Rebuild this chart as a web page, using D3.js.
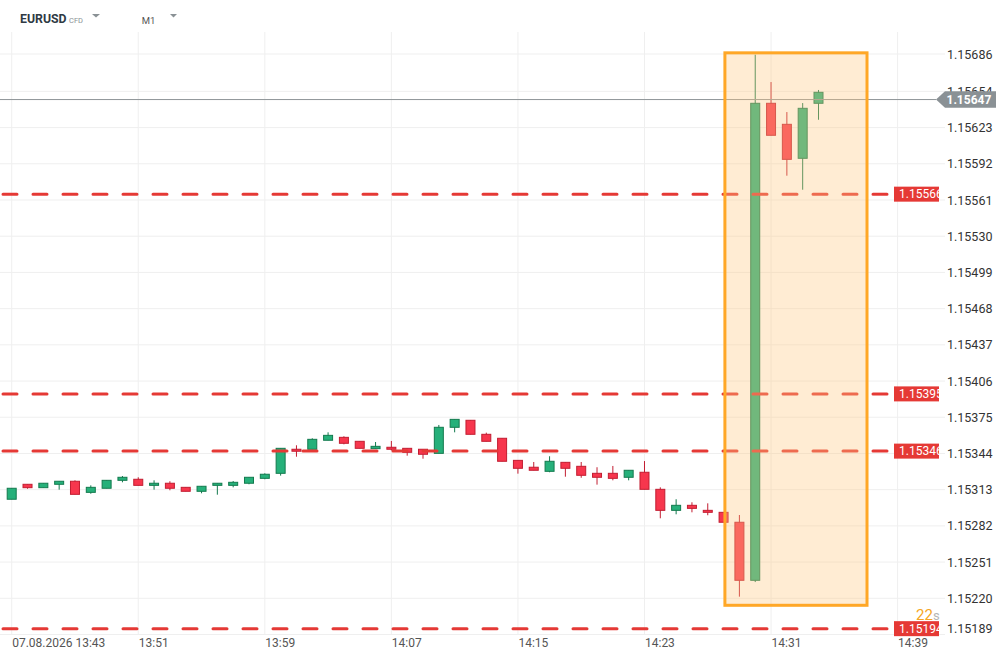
<!DOCTYPE html>
<html>
<head>
<meta charset="utf-8">
<script src="https://cdn.jsdelivr.net/npm/d3@7"></script>
<style>
    body { margin: 0; background: #fff; }
    svg { display: block; font-family: Roboto, "Noto Sans", sans-serif; }
</style>
</head>
<body>
<div id="svg_container"></div>
<script>
// EURUSD M1, one candle per minute starting at startTime
var startTime = "2026-08-07 13:43";
var opens = [1.153048, 1.153176, 1.153147, 1.153176, 1.153202, 1.153107, 1.153142, 1.153210, 1.153219, 1.153167,
    1.153185, 1.153150, 1.153116, 1.153167, 1.153167, 1.153185, 1.153227, 1.153270, 1.153476, 1.153476,
    1.153553, 1.153578, 1.153544, 1.153481, 1.153493, 1.153484, 1.153476, 1.153441, 1.153664, 1.153724,
    1.153604, 1.153570, 1.153381, 1.153322, 1.153287, 1.153364, 1.153330, 1.153270, 1.153270, 1.153236,
    1.153279, 1.153133, 1.152953, 1.152996, 1.152953, 1.152936, 1.152851, 1.152354, 1.156438, 1.156258,
    1.155967, 1.156438];
var highs = [1.153142, 1.153176, 1.153185, 1.153202, 1.153210, 1.153167, 1.153210, 1.153247, 1.153236, 1.153210,
    1.153202, 1.153150, 1.153159, 1.153185, 1.153204, 1.153236, 1.153270, 1.153484, 1.153510, 1.153570,
    1.153621, 1.153587, 1.153544, 1.153538, 1.153547, 1.153484, 1.153476, 1.153684, 1.153732, 1.153724,
    1.153618, 1.153570, 1.153381, 1.153367, 1.153416, 1.153364, 1.153367, 1.153322, 1.153333, 1.153296,
    1.153375, 1.153150, 1.153048, 1.153022, 1.153013, 1.152936, 1.152913, 1.156854, 1.156620, 1.156363,
    1.156440, 1.156552];
var lows = [1.153048, 1.153138, 1.153147, 1.153130, 1.153090, 1.153095, 1.153142, 1.153193, 1.153167, 1.153130,
    1.153125, 1.153116, 1.153099, 1.153087, 1.153150, 1.153176, 1.153219, 1.153250, 1.153412, 1.153476,
    1.153553, 1.153518, 1.153484, 1.153481, 1.153465, 1.153421, 1.153395, 1.153441, 1.153621, 1.153604,
    1.153544, 1.153373, 1.153267, 1.153296, 1.153279, 1.153241, 1.153232, 1.153173, 1.153210, 1.153210,
    1.153133, 1.152885, 1.152919, 1.152936, 1.152911, 1.152851, 1.152214, 1.152339, 1.156164, 1.155818,
    1.155698, 1.156297];
var closes = [1.153142, 1.153147, 1.153185, 1.153202, 1.153090, 1.153150, 1.153210, 1.153236, 1.153167, 1.153185,
    1.153142, 1.153116, 1.153159, 1.153185, 1.153193, 1.153236, 1.153262, 1.153484, 1.153459, 1.153561,
    1.153595, 1.153527, 1.153484, 1.153501, 1.153476, 1.153450, 1.153433, 1.153664, 1.153732, 1.153604,
    1.153544, 1.153373, 1.153313, 1.153296, 1.153373, 1.153313, 1.153253, 1.153236, 1.153227, 1.153296,
    1.153133, 1.152953, 1.152996, 1.152970, 1.152936, 1.152851, 1.152354, 1.156438, 1.156164, 1.155958,
    1.156395, 1.156532];

var priceTicks = [1.15189, 1.15220, 1.15251, 1.15282, 1.15313, 1.15344, 1.15375, 1.15406, 1.15437,
    1.15468, 1.15499, 1.15530, 1.15561, 1.15592, 1.15623, 1.15654, 1.15686];
var timeTicks = ["13:43", "13:51", "13:59", "14:07", "14:15", "14:23", "14:31", "14:39"];
var levels = [1.15566, 1.15395, 1.15346, 1.15194];
var currentPrice = 1.15647;
var highlightTimes = ["14:28:05", "14:37:04"];
var highlightPrices = [1.15687, 1.15214];
var countdown = "22";

var width = 1007, height = 659;
var parseTime = d3.timeParse("%Y-%m-%d %H:%M:%S");
var day = startTime.slice(0, 10) + " ";
var t0 = parseTime(startTime + ":00");

var candles = opens.map(function (o, i) {
    return {t: d3.timeMinute.offset(t0, i), o: o, h: highs[i], l: lows[i], c: closes[i]};
});
var tickDates = timeTicks.map(function (s) { return parseTime(day + s + ":00"); });

var x = d3.scaleTime()
        .domain([tickDates[0], tickDates[tickDates.length - 1]])
        .range([11.7, 897.6]);
var y = d3.scaleLinear()
        .domain([priceTicks[0], priceTicks[priceTicks.length - 1]])
        .range([634.5, 54]);

var svg = d3.select("#svg_container")
        .append("svg")
        .attr("width", width)
        .attr("height", height);
svg.append("rect").attr("width", width).attr("height", height).attr("fill", "#fff");

// grid
var grid = svg.append("g").attr("stroke", "#efefef").attr("stroke-width", 1);
grid.selectAll(".hg")
        .data(priceTicks)
        .enter().append("line")
        .attr("x1", 0).attr("x2", 945)
        .attr("y1", function (d) { return y(d); })
        .attr("y2", function (d) { return y(d); });
grid.selectAll(".vg")
        .data(tickDates)
        .enter().append("line")
        .attr("x1", function (d) { return x(d); })
        .attr("x2", function (d) { return x(d); })
        .attr("y1", 32).attr("y2", 634.5);

// candles
var up = {fill: "#26b07a", stroke: "#137a4e"};
var down = {fill: "#f7364d", stroke: "#c21d31"};
var cg = svg.append("g").selectAll("g")
        .data(candles)
        .enter().append("g");
cg.append("line")
        .attr("x1", function (d) { return x(d.t); })
        .attr("x2", function (d) { return x(d.t); })
        .attr("y1", function (d) { return y(d.h); })
        .attr("y2", function (d) { return y(d.l); })
        .attr("stroke", function (d) { return d.c >= d.o ? up.stroke : down.stroke; })
        .attr("stroke-width", 1);
cg.append("rect")
        .attr("x", function (d) { return x(d.t) - 4.5; })
        .attr("width", 9)
        .attr("y", function (d) { return y(Math.max(d.o, d.c)); })
        .attr("height", function (d) { return Math.max(1, Math.abs(y(d.o) - y(d.c))); })
        .attr("fill", function (d) { return d.c >= d.o ? up.fill : down.fill; })
        .attr("stroke", function (d) { return d.c >= d.o ? up.stroke : down.stroke; })
        .attr("stroke-width", 1);

// horizontal levels
svg.append("g").selectAll("line")
        .data(levels)
        .enter().append("line")
        .attr("x1", 3).attr("x2", 887)
        .attr("y1", function (d) { return y(d); })
        .attr("y2", function (d) { return y(d); })
        .attr("stroke", "#e53935")
        .attr("stroke-width", 3)
        .attr("stroke-linecap", "round")
        .attr("stroke-dasharray", "14,16");

// current price line
svg.append("line")
        .attr("x1", 0).attr("x2", 936)
        .attr("y1", y(currentPrice)).attr("y2", y(currentPrice))
        .attr("stroke", "#8e9498")
        .attr("stroke-width", 1);

// highlight box
var hx0 = x(parseTime(day + highlightTimes[0])), hx1 = x(parseTime(day + highlightTimes[1]));
svg.append("rect")
        .attr("x", hx0)
        .attr("y", y(highlightPrices[0]))
        .attr("width", hx1 - hx0)
        .attr("height", y(highlightPrices[1]) - y(highlightPrices[0]))
        .attr("fill", "#ffc882")
        .attr("fill-opacity", 0.35)
        .attr("stroke", "#ffa726")
        .attr("stroke-width", 3);

// price axis
var yAxis = svg.append("g")
        .attr("transform", "translate(947,0)")
        .call(d3.axisRight(y).tickValues(priceTicks).tickFormat(d3.format(".5f")).tickSize(0).tickPadding(0));
yAxis.select(".domain").remove();
yAxis.selectAll("text")
        .attr("font-size", "12.5px")
        .attr("font-family", "Roboto, sans-serif")
        .attr("fill", "#333");
yAxis.selectAll(".tick text")
        .filter(function (d) { return y(d) > 630; })
        .attr("y", -6);

// time axis
var xAxis = svg.append("g")
        .attr("transform", "translate(0,635)")
        .call(d3.axisBottom(x).tickValues(tickDates).tickSize(0).tickPadding(3)
                .tickFormat(function (d, i) {
                    return i === 0 ? d3.timeFormat("%d.%m.%Y %H:%M")(d) : d3.timeFormat("%H:%M")(d);
                }));
xAxis.select(".domain").remove();
xAxis.selectAll("text")
        .attr("text-anchor", "start")
        .attr("font-size", "12px")
        .attr("font-family", "Roboto, sans-serif")
        .attr("fill", "#555");

// level tags
svg.append("clipPath").attr("id", "tagclip")
        .append("rect").attr("x", 0).attr("y", 0).attr("width", 939).attr("height", height);
var tags = svg.append("g").attr("clip-path", "url(#tagclip)")
        .selectAll("g")
        .data(levels)
        .enter().append("g")
        .attr("transform", function (d) { return "translate(894," + y(d) + ")"; });
tags.append("rect")
        .attr("x", 0).attr("y", -7.5)
        .attr("width", 45).attr("height", 15)
        .attr("fill", "#e53935");
tags.append("text")
        .attr("x", 5).attr("dy", "0.36em")
        .attr("font-size", "12px")
        .attr("fill", "#fff")
        .text(function (d) { return d3.format(".5f")(d); });

// current price tag
var cy = y(currentPrice);
svg.append("path")
        .attr("d", "M936," + cy + "L945," + (cy - 8.2) + "H996V" + (cy + 8.2) + "H945Z")
        .attr("fill", "#8a9195");
svg.append("text")
        .attr("x", 946.5).attr("y", cy).attr("dy", "0.36em")
        .attr("font-size", "12px")
        .attr("font-weight", "bold")
        .attr("fill", "#fff")
        .text(d3.format(".5f")(currentPrice));

// countdown
var cd = svg.append("text").attr("x", 916).attr("y", 620);
cd.append("tspan").attr("font-size", "15px").attr("fill", "#f5a623").text(countdown);
cd.append("tspan").attr("font-size", "13px").attr("fill", "#b5b5b5").text("s");

// header
svg.append("rect").attr("width", width).attr("height", 32).attr("fill", "#fff");
svg.append("text").attr("x", 20).attr("y", 23.3)
        .attr("font-size", "12.3px").attr("font-weight", "bold").attr("fill", "#2f3a44")
        .text("EURUSD");
svg.append("text").attr("x", 69).attr("y", 22.7)
        .attr("font-size", "7.5px").attr("fill", "#8a9195")
        .text("CFD");
svg.append("path").attr("d", "M92,14H100L96,17.5Z").attr("fill", "#8a9195");
svg.append("text").attr("x", 141.7).attr("y", 24)
        .attr("font-size", "9.5px").attr("fill", "#555")
        .text("M1");
svg.append("path").attr("d", "M170,14H177L173.5,17.5Z").attr("fill", "#8a9195");
</script>
</body>
</html>
